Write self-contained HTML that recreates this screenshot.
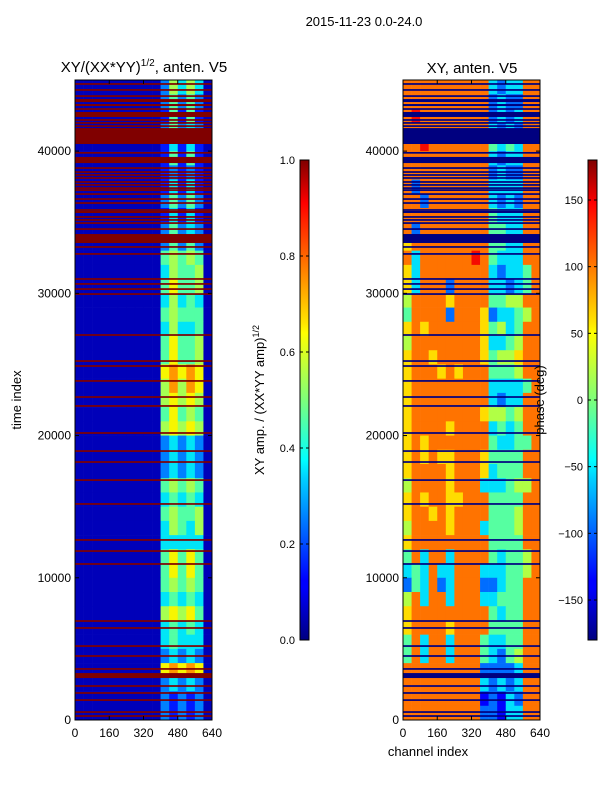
<!DOCTYPE html>
<html><head><meta charset="utf-8"><style>
body{margin:0;background:#fff;}
svg{display:block;font-family:"Liberation Sans",sans-serif;}
</style></head><body>
<svg id="fig" width="600" height="800" viewBox="0 0 600 800">
<defs>
<linearGradient id="jetGrad" x1="0" y1="1" x2="0" y2="0">
<stop offset="0" stop-color="#000080"/><stop offset="0.11" stop-color="#0000ff"/><stop offset="0.125" stop-color="#0000ff"/>
<stop offset="0.34" stop-color="#00d4ff"/><stop offset="0.375" stop-color="#00ffff"/><stop offset="0.5" stop-color="#7dff7a"/>
<stop offset="0.64" stop-color="#ffff00"/><stop offset="0.66" stop-color="#ffe600"/><stop offset="0.89" stop-color="#ff1300"/>
<stop offset="0.91" stop-color="#ff0000"/><stop offset="1" stop-color="#800000"/>
</linearGradient>
</defs>
<text x="364" y="26" font-size="13" text-anchor="middle">2015-11-23 0.0-24.0</text>
<text x="144" y="72" font-size="15" text-anchor="middle">XY/(XX*YY)<tspan font-size="10" dy="-6">1/2</tspan><tspan dy="6">, anten. V5</tspan></text>
<text x="472" y="73" font-size="15" text-anchor="middle">XY, anten. V5</text>
<text transform="translate(21,400) rotate(-90)" font-size="13" text-anchor="middle">time index</text>
<text x="428" y="756" font-size="13" text-anchor="middle">channel index</text>
<text transform="translate(264,400) rotate(-90)" font-size="13" text-anchor="middle">XY amp. / (XX*YY amp)<tspan font-size="9" dy="-5">1/2</tspan></text>
<g id="plots"></g>
<text transform="translate(544,400) rotate(-90)" font-size="13" text-anchor="middle">phase (deg)</text>
</svg>
<script>
const timeMax = 45000;
const chanMax = 640;
const tickTimes = [0, 10000, 20000, 30000, 40000];
const tickChans = [0, 160, 320, 480, 640];
const ampTicks = [0.0, 0.2, 0.4, 0.6, 0.8, 1.0];
const ampTickLabels = ["0.0", "0.2", "0.4", "0.6", "0.8", "1.0"];
const phaseTicks = [-150, -100, -50, 0, 50, 100, 150];
const flagLines = [44720,44300,43870,42960,42190,41980,41760,39880,38810,38530,38320,38110,37830,37620,37400,37260,36980,36630,36350,35860,35720,35370,35160,34940,34520,33260,32770,31010,30660,30300,29950,27070,25240,24890,23840,22710,22080,20180,18910,18140,16870,15190,12660,11880,10970,6960,6470,5200,4500,3590,2390,1900,1400,560,280];
const flagRanges = [[43450,43660],[43170,43310],[42400,42750],[40500,41620],[39160,39590],[35650,35790],[33540,34170],[2950,3300]];
const ampRows = ["1111111111364641","1111111111353531","1111111111252521","1111111111353431","1111111111242421","1111111111252521","1111111111232321","1111111111242421","1111111111353531","1111111111242421","1111111111353431","1111111111353531","1111111111565651","1111111111465561","1111111111575561","1111111111464541","1111111111565551","1111111111464451","1111111111575561","1111111111575561","1111111111787871","1111111111686871","1111111111676761","1111111111575651","1111111111676761","1111111111343431","1111111111343431","1111111111343431","1111111111565651","1111111111454541","1111111111565561","1111111111465461","1111111111444441","1111111111575751","1111111111575751","1111111111565651","1111111111454541","1111111111676751","1111111111454541","1111111111454441","1111111111343431","1111111111787871","1111111111343431","1111111111323231","1111111111323231"];
const phaseRows = ["7777777777323377","7777777777232277","7877777777232377","7777777777323277","7787777777434377","7777777777323377","7777777777232277","7277777777333377","7727777777323277","7777777777433377","7277777777443377","6777777777443377","7377777787433377","6377777777323347","6377727777332347","5777767777445577","4777727776233457","6767777776453477","5777777776334577","6776777776455677","6777676777444577","6777777777333347","6777777777323377","6777777776554577","6777767777343477","6767777777433447","6767667776444477","6777767776344477","5777767773334557","6767766777444477","6776767777444577","5777767773444577","6777777777444477","4737737777434457","3437337773334457","2437237772234477","5737737773344477","6777777777434477","6777767777444477","4737737774334477","4737737774324577","7777777772222377","7777777773232377","7777777771213277","7777777772213377"];

const NS = "http://www.w3.org/2000/svg";
function jet(v){
  v = Math.max(0, Math.min(1, v));
  function lerp(pts){for(let i=0;i<pts.length-1;i++){const a=pts[i],b=pts[i+1];if(v>=a[0]&&v<=b[0]){return a[1]+(b[1]-a[1])*(v-a[0])/(b[0]-a[0]);}}return pts[pts.length-1][1];}
  const r=lerp([[0,0],[0.35,0],[0.66,1],[0.89,1],[1,0.5]]);
  const g=lerp([[0,0],[0.125,0],[0.375,1],[0.64,1],[0.91,0],[1,0]]);
  const b=lerp([[0,0.5],[0.11,1],[0.34,1],[0.65,0],[1,0]]);
  return "rgb("+Math.round(r*255)+","+Math.round(g*255)+","+Math.round(b*255)+")";
}
function mk(tag, attrs, parent){const e=document.createElementNS(NS,tag);for(const k in attrs)e.setAttribute(k,attrs[k]);parent.appendChild(e);return e;}
const root = document.getElementById("plots");

function drawPanel(x0, rows, valueOf, flagColor, name){
  const x1 = x0 + 137, y0 = 80, y1 = 720;
  const xs = c => x0 + c / chanMax * (x1 - x0);
  const ys = t => y1 - t / timeMax * (y1 - y0);
  const g = mk("g", {}, root);
  
  
  const nR = rows.length, nC = rows[0].length;
  const tStep = timeMax / nR, cStep = chanMax / nC;
  rows.forEach((row, r) => {
    const tTop = timeMax - r * tStep;
    for (let c = 0; c < nC; c++) {
      const x = xs(c * cStep), y = ys(tTop);
      const cell = mk("rect", {x: x, y: y, width: xs((c + 1) * cStep) - x + 0.3, height: ys(tTop - tStep) - y + 0.3, fill: jet(valueOf(row[c]))}, g);
      
      
    }
  });
  flagLines.forEach(t => {
    const ln = mk("rect", {x: x0, y: ys(t + 60), width: x1 - x0, height: ys(t - 60) - ys(t + 60), fill: flagColor}, g);
    
    
  });
  flagRanges.forEach(([a, b]) => {
    const bd = mk("rect", {x: x0, y: ys(b), width: x1 - x0, height: ys(a) - ys(b), fill: flagColor}, g);
    
    
  });
  const fr = mk("rect", {x: x0, y: y0, width: x1 - x0, height: y1 - y0, fill: "none", stroke: "#000", "stroke-width": 1}, g);
  
  
  tickTimes.forEach(t => {
    const y = ys(t);
    mk("line", {x1: x0, x2: x0 + 4, y1: y, y2: y, stroke: "#000"}, g);
    mk("line", {x1: x1, x2: x1 - 4, y1: y, y2: y, stroke: "#000"}, g);
    const lb = mk("text", {x: x0 - 4, y: y + 4, "font-size": 12, "text-anchor": "end"}, g);
    lb.textContent = String(t);
    
    
  });
  tickChans.forEach(c => {
    const x = xs(c);
    mk("line", {x1: x, x2: x, y1: y1, y2: y1 - 4, stroke: "#000"}, g);
    mk("line", {x1: x, x2: x, y1: y0, y2: y0 + 4, stroke: "#000"}, g);
    const lb = mk("text", {x: x, y: y1 + 17, "font-size": 12, "text-anchor": "middle"}, g);
    lb.textContent = String(c);
    
    
  });
}

function drawColorbar(x, vmin, vmax, ticks, labels, name){
  const y0 = 160, y1 = 640, w = 9;
  const ys = v => y1 - (v - vmin) / (vmax - vmin) * (y1 - y0);
  const g = mk("g", {}, root);
  
  
  const bar = mk("rect", {x: x, y: y0, width: w, height: y1 - y0, fill: "url(#jetGrad)", stroke: "#000", "stroke-width": 1}, g);
  
  
  ticks.forEach((v, i) => {
    const y = ys(v);
    mk("line", {x1: x, x2: x + 3, y1: y, y2: y, stroke: "#000"}, g);
    mk("line", {x1: x + w, x2: x + w - 3, y1: y, y2: y, stroke: "#000"}, g);
    const lb = mk("text", {x: x - 5, y: y + 4, "font-size": 11, "text-anchor": "end"}, g);
    lb.textContent = labels[i];
    
    
  });
}

drawPanel(75, ampRows, d => (Number(d) - 0.5) / 10, "#800000", "amplitude-heatmap");
drawPanel(403, phaseRows, d => Number(d) / 9 + 0.01, "#000080", "phase-heatmap");
drawColorbar(300, 0, 1, ampTicks, ampTickLabels, "amplitude-colorbar");
drawColorbar(588, -180, 180, phaseTicks, phaseTicks.map(v => v < 0 ? "\u2212" + Math.abs(v) : String(v)), "phase-colorbar");
</script>
</body></html>
